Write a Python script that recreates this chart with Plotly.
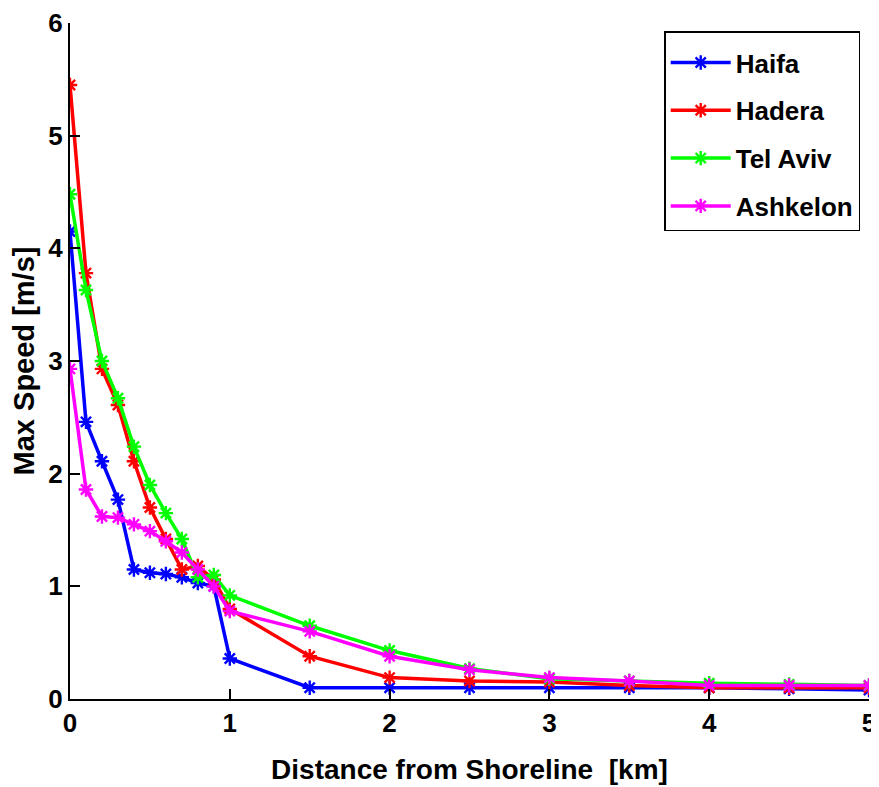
import plotly.graph_objects as go

distance_km = [0, 0.1, 0.2, 0.3, 0.4, 0.5, 0.6, 0.7, 0.8, 0.9, 1.0, 1.5, 2.0, 2.5, 3.0, 3.5, 4.0, 4.5, 5.0]

haifa = [4.15, 2.46, 2.11, 1.77, 1.15, 1.12, 1.11, 1.08, 1.03, 1.00, 0.36, 0.10, 0.10, 0.10, 0.10, 0.10, 0.10, 0.09, 0.08]
hadera = [5.45, 3.78, 2.93, 2.61, 2.11, 1.70, 1.42, 1.15, 1.18, 1.06, 0.80, 0.38, 0.19, 0.16, 0.15, 0.12, 0.10, 0.10, 0.10]
tel_aviv = [4.48, 3.63, 3.00, 2.67, 2.24, 1.90, 1.65, 1.42, 1.08, 1.10, 0.92, 0.65, 0.43, 0.27, 0.18, 0.16, 0.14, 0.13, 0.12]
ashkelon = [2.93, 1.86, 1.62, 1.61, 1.55, 1.49, 1.40, 1.30, 1.15, 1.00, 0.78, 0.60, 0.38, 0.26, 0.19, 0.16, 0.12, 0.12, 0.12]

series_names = ["Haifa", "Hadera", "Tel Aviv", "Ashkelon"]
series_values = [haifa, hadera, tel_aviv, ashkelon]
series_colors = ["#0000ff", "#ff0000", "#00ff00", "#ff00ff"]

x_ticks = [0, 1, 2, 3, 4, 5]
y_ticks = [0, 1, 2, 3, 4, 5, 6]

FONT = "Liberation Sans, Arial, Helvetica, sans-serif"

fig = go.Figure()
for i, (name, vals, col) in enumerate(zip(series_names, series_values, series_colors)):
    fig.add_trace(go.Scatter(
        x=distance_km, y=vals, name=name, mode="lines+markers",
        legendgroup=f"g{i}",
        line=dict(color=col, width=3.5),
        marker=dict(symbol="asterisk-open", size=12, color=col,
                    line=dict(color=col, width=2.4)),
    ))

axis_common = dict(
    showgrid=False, zeroline=False, showline=True, linecolor="black", linewidth=2,
    mirror=False, ticks="inside", ticklen=10, tickwidth=2, tickcolor="black",
    automargin=False, ticklabeloverflow="allow",
    tickfont=dict(family=FONT, size=26, color="black", weight="bold"),
)

# the page body adds an 8px offset, so the figure is sized to fit the 879x787 window
fig.update_layout(
    width=871, height=779,
    margin=dict(l=62, r=10, t=15, b=88),
    paper_bgcolor="white", plot_bgcolor="white",
    xaxis=dict(range=[0, 5], tickvals=x_ticks, **axis_common,
               title=dict(text="Distance from Shoreline\u00a0 [km]", standoff=22,
                          font=dict(family=FONT, size=28, color="black", weight="bold"))),
    yaxis=dict(range=[0, 6], tickvals=y_ticks, **axis_common,
               title=dict(text="Max Speed [m/s]", standoff=14,
                          font=dict(family=FONT, size=29, color="black", weight="bold"))),
    legend=dict(x=0.989, y=0.988, xanchor="right", yanchor="top",
                bordercolor="black", borderwidth=1.5, bgcolor="white",
                traceorder="grouped", tracegroupgap=11,
                title=dict(text="\u00a0", font=dict(size=5)),
                font=dict(family=FONT, size=26, color="black", weight="bold"),
                itemwidth=60),
    showlegend=True,
)

fig.write_html("out.html")
